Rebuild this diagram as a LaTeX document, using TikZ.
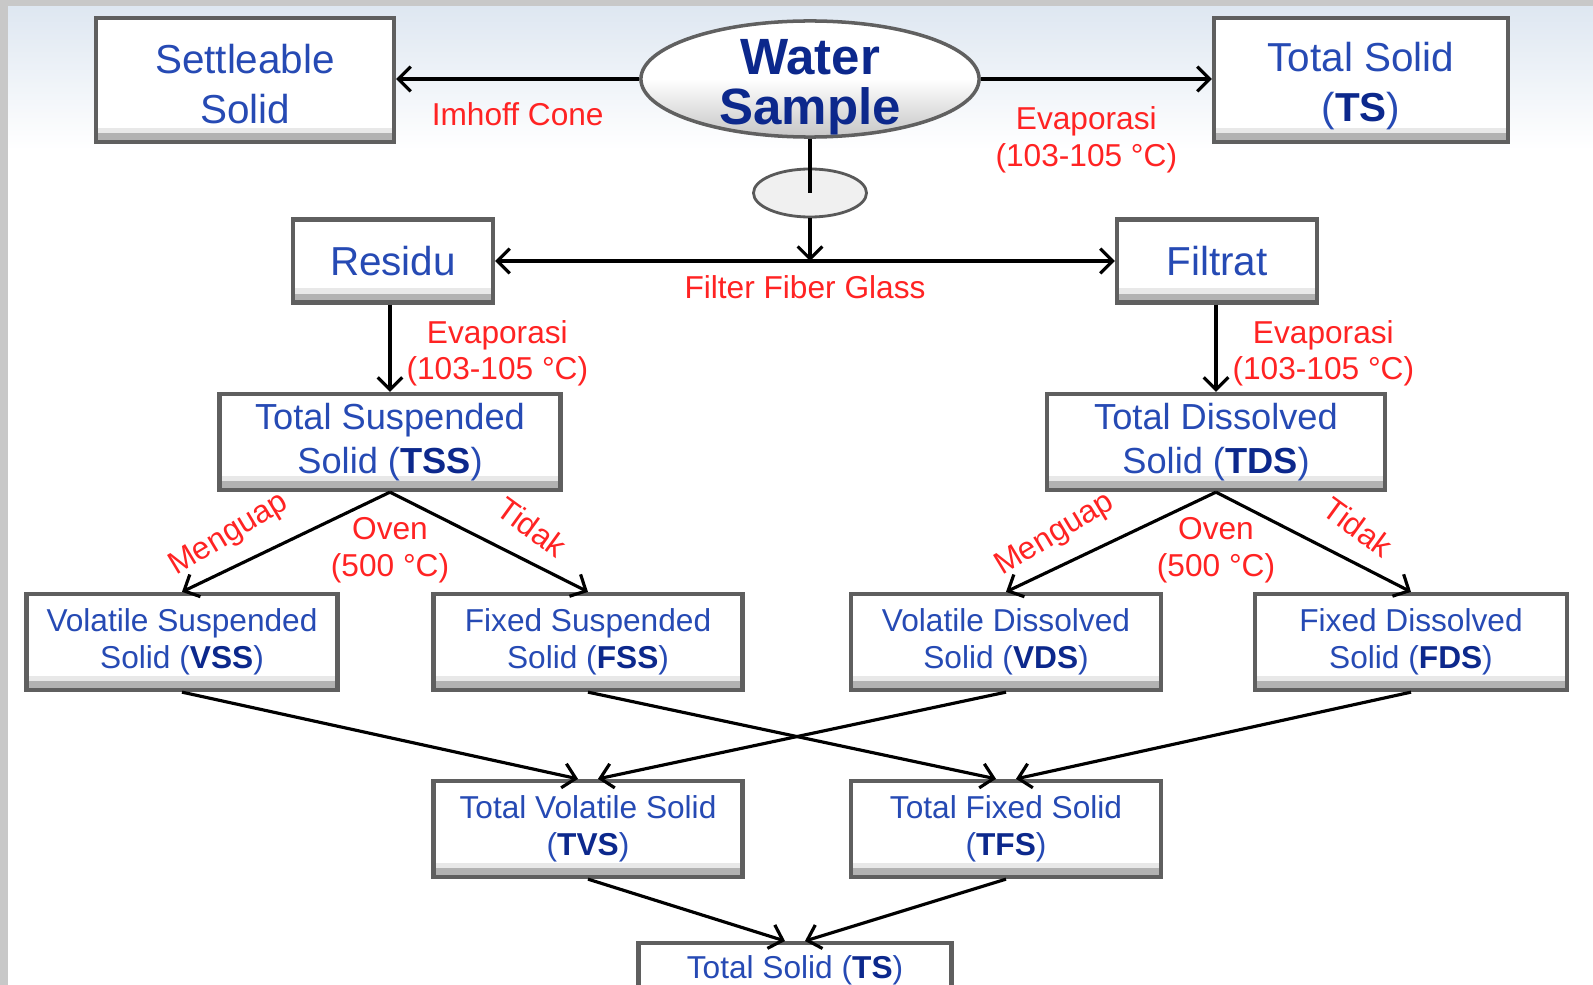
\documentclass[tikz,border=0pt]{standalone}
\usepackage{fontspec}
\setmainfont{Liberation Sans}
\usepackage{tikz}
\usetikzlibrary{positioning}
\usetikzlibrary{arrows.meta}
\usetikzlibrary{shapes.geometric}
\usetikzlibrary{calc}

\definecolor{boxblue}{RGB}{38,74,180}
\definecolor{abbrblue}{RGB}{12,40,140}
\definecolor{labred}{RGB}{255,35,35}
\definecolor{boxgray}{RGB}{95,95,95}
\definecolor{bgedge}{RGB}{200,200,200}
\definecolor{bgsky}{RGB}{222,231,241}

\newcommand{\bnavy}[1]{\textcolor{abbrblue}{\textbf{#1}}}

\tikzset{
  box/.style={draw=boxgray, line width=1.2pt, fill=white, text=boxblue, align=center, inner sep=0pt,
    path picture={
      \fill[gray!60] (path picture bounding box.south west) rectangle ([yshift=2.5pt]path picture bounding box.south east);
      \fill[gray!18] ([yshift=2.5pt]path picture bounding box.south west) rectangle ([yshift=4pt]path picture bounding box.south east);
    }},
  boxL/.style={box, font=\fontsize{11.5}{14.2}\selectfont},
  boxM/.style={box, font=\fontsize{10.3}{12.4}\selectfont, minimum height=0.96cm},
  boxS/.style={box, font=\fontsize{9}{10.4}\selectfont, minimum height=0.96cm},
  lbl/.style={text=labred, align=center, inner sep=0pt, font=\fontsize{9}{10.4}\selectfont},
  arr/.style={line width=0.9pt, -{Straight Barb[length=3.5pt,width=7pt]}},
  arrs/.style={line width=0.9pt, {Straight Barb[length=3.5pt,width=7pt]}-{Straight Barb[length=3.5pt,width=7pt]}},
}

\begin{document}
\begin{tikzpicture}[x=0.01cm, y=-0.01cm]

\clip (0,0) rectangle (1593,985);
\fill[white] (0,0) rectangle (1593,985);
\shade[top color=bgsky, bottom color=white] (0,6) rectangle (1593,150);
\fill[bgedge] (0,0) rectangle (1593,6);
\fill[bgedge] (0,0) rectangle (8,985);

% top row
\node[boxL, minimum width=2.98cm, minimum height=1.24cm] (settle) at (245,80) {\rule{0pt}{10.5pt}Settleable\\Solid};
\node[ellipse, draw=gray!75!black, line width=1pt, top color=white, bottom color=gray!45, middle color=white,
      minimum width=3.38cm, minimum height=1.16cm, inner sep=0pt] (water) at (810,79) {};
\node[text=abbrblue, align=center, inner sep=0pt, font=\fontsize{14.5}{14.2}\selectfont\bfseries] (watertxt) at (810,87) {Water\\Sample};
\node[boxL, minimum width=2.94cm, minimum height=1.24cm] (tstop) at (1361,80) {\rule{0pt}{12pt}Total Solid\\(\bnavy{TS})};
\node[ellipse, draw=gray!70!black, line width=0.8pt, fill=gray!12, minimum width=1.13cm, minimum height=0.48cm] (filt) at (810,193) {};
\node[boxL, minimum width=2cm, minimum height=0.83cm] (residu) at (393,261) {Residu};
\node[boxL, minimum width=2cm, minimum height=0.83cm] (filtrat) at (1217,261) {Filtrat};
\coordinate (split) at (810,261);

\node[boxM, minimum width=3.41cm] (tss) at (390,442) {Total Suspended\\Solid (\bnavy{TSS})};
\node[boxM, minimum width=3.38cm] (tds) at (1216,442) {Total Dissolved\\Solid (\bnavy{TDS})};

\node[boxS, minimum width=3.11cm] (vss) at (182,642) {Volatile Suspended\\Solid (\bnavy{VSS})};
\node[boxS, minimum width=3.09cm] (fss) at (588,642) {Fixed Suspended\\Solid (\bnavy{FSS})};
\node[boxS, minimum width=3.10cm] (vds) at (1006,642) {Volatile Dissolved\\Solid (\bnavy{VDS})};
\node[boxS, minimum width=3.12cm] (fds) at (1411,642) {Fixed Dissolved\\Solid (\bnavy{FDS})};

\node[boxS, minimum width=3.09cm] (tvs) at (588,829) {Total Volatile Solid\\(\bnavy{TVS})};
\node[boxS, minimum width=3.10cm] (tfs) at (1006,829) {Total Fixed Solid\\(\bnavy{TFS})};
\node[boxS, minimum width=3.13cm, anchor=north, inner ysep=0.12cm, text depth=1cm] (tsbot) at (795,941) {Total Solid (\bnavy{TS})};

% connectors
\draw[arr] (water.west) -- (water.west -| settle.east) node[lbl, midway, below=0.22cm] (imhoff) {Imhoff Cone};
\draw[arr] (water.east) -- (water.east -| tstop.west) node[lbl, midway, below=0.26cm, xshift=-0.1cm] (evapts) {Evaporasi\\(103-105 °C)};
\draw[line width=0.9pt] (water.south) -- (filt.center);
\draw[arr] (filt.south) -- (split);
\draw[arrs] (residu.east) -- (filtrat.west) node[lbl, midway, below=0.13cm] (fiber) {Filter Fiber Glass};

\draw[arr] (tss.north |- residu.south) -- (tss.north) node[lbl, midway, right=0.15cm, yshift=-0.05cm] (evaptss) {Evaporasi\\(103-105 °C)};
\draw[arr] (tds.north |- filtrat.south) -- (tds.north) node[lbl, midway, right=0.15cm, yshift=-0.05cm] (evaptds) {Evaporasi\\(103-105 °C)};

\foreach \p/\l/\r in {tss/vss/fss, tds/vds/fds} {
  \draw[arr] (\p.south) -- (\l.north);
  \draw[arr] (\p.south) -- (\r.north);
  \node[lbl, below=0.25cm of \p.south] (oven\p) {Oven\\(500 °C)};
  \node[lbl, rotate=31] (menguap\p) at ($(\p.south)+(-161,43)$) {Menguap};
  \node[lbl, rotate=-36] (tidak\p) at ($(\p.south)+(142,35)$) {Tidak};
}

\foreach \a/\b/\s in {vss/tvs/-0.1cm, vds/tvs/0.1cm, fss/tfs/-0.1cm, fds/tfs/0.1cm}
  \draw[arr] (\a.south) -- ([xshift=\s]\b.north);
\foreach \a/\s in {tvs/-0.1cm, tfs/0.1cm}
  \draw[arr] (\a.south) -- ([xshift=\s]tsbot.north);

\end{tikzpicture}
\end{document}
